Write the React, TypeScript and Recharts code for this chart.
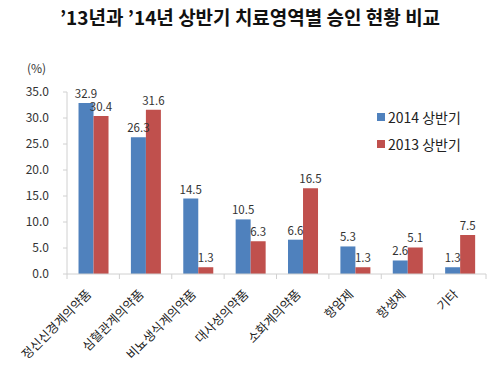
import { Bar, BarChart, LabelList, XAxis, YAxis } from "recharts";

const categories = [
  "정신신경계의약품",
  "심혈관계의약품",
  "비뇨생식계의약품",
  "대사성의약품",
  "소화계의약품",
  "항암제",
  "항생제",
  "기타",
];
const h2014 = [32.9, 26.3, 14.5, 10.5, 6.6, 5.3, 2.6, 1.3];
const h2013 = [30.4, 31.6, 1.3, 6.3, 16.5, 1.3, 5.1, 7.5];
const yTicks = [0, 5, 10, 15, 20, 25, 30, 35];

const data = categories.map((name, i) => ({ name, a: h2014[i], b: h2013[i] }));

const FONT = "'Noto Sans CJK KR', 'Noto Sans', sans-serif";
const BLUE = "#4f81bd";
const RED = "#c0504d";
const AXIS = "#d0d0d0";
const W = 500;
const H = 366;
const LEFT = 67;
const RIGHT = 14;
const BAND = (W - LEFT - RIGHT) / categories.length;

function CatTick(props: any) {
  const { x, y, payload, index } = props;
  const left = x - BAND / 2;
  const tx = x - 1;
  const ty = y + 13;
  return (
    <g>
      <line x1={left} y1={y - 8} x2={left} y2={y - 3} stroke={AXIS} />
      {index === categories.length - 1 && (
        <line x1={x + BAND / 2} y1={y - 8} x2={x + BAND / 2} y2={y - 3} stroke={AXIS} />
      )}
      <text
        x={tx}
        y={ty}
        textAnchor="end"
        transform={`rotate(-45, ${tx}, ${ty})`}
        fontSize={12.5}
        fill="#222"
        fontFamily={FONT}
      >
        {payload.value}
      </text>
    </g>
  );
}

const legendItems = [
  { label: "2014 상반기", color: BLUE },
  { label: "2013 상반기", color: RED },
];

export default function App() {
  return (
    <div style={{ position: "absolute", left: 0, top: 0, width: W, height: H, background: "#fff" }}>
      <div
        style={{
          position: "absolute",
          top: 3,
          left: 0,
          width: W,
          textAlign: "center",
          fontFamily: FONT,
          fontWeight: 700,
          fontSize: 19,
          color: "#111",
        }}
      >
        ’13년과 ’14년 상반기 치료영역별 승인 현황 비교
      </div>
      <div
        style={{
          position: "absolute",
          top: 59,
          left: 27,
          fontFamily: FONT,
          fontSize: 12,
          color: "#333",
        }}
      >
        (%)
      </div>
      <div
        style={{
          position: "absolute",
          left: 377,
          top: 103,
          fontFamily: FONT,
          fontSize: 14,
          color: "#222",
          zIndex: 2,
        }}
      >
        {legendItems.map((it) => (
          <div key={it.label} style={{ display: "flex", alignItems: "center", height: 27 }}>
            <span style={{ width: 8, height: 8, background: it.color, marginRight: 3 }} />
            <span>{it.label}</span>
          </div>
        ))}
      </div>
      <BarChart
        width={W}
        height={H}
        data={data}
        margin={{ top: 92, right: RIGHT, bottom: 12, left: 17 }}
        barCategoryGap="22%"
        barGap={0}
      >
        <XAxis
          dataKey="name"
          height={80}
          interval={0}
          stroke={AXIS}
          tickLine={false}
          tick={<CatTick />}
        />
        <YAxis
          width={50}
          domain={[0, 35]}
          ticks={yTicks}
          interval={0}
          stroke={AXIS}
          tickSize={4}
          tickMargin={14}
          tickFormatter={(v: number) => v.toFixed(1)}
          tick={{ fontSize: 12, fill: "#333", fontFamily: FONT }}
        />
        <Bar dataKey="a" name="2014 상반기" fill={BLUE} isAnimationActive={false}>
          <LabelList dataKey="a" position="top" offset={5} fontSize={11.5} fill="#333" fontFamily={FONT} formatter={(v: any) => Number(v).toFixed(1)} />
        </Bar>
        <Bar dataKey="b" name="2013 상반기" fill={RED} isAnimationActive={false}>
          <LabelList dataKey="b" position="top" offset={5} fontSize={11.5} fill="#333" fontFamily={FONT} formatter={(v: any) => Number(v).toFixed(1)} />
        </Bar>
      </BarChart>
    </div>
  );
}
